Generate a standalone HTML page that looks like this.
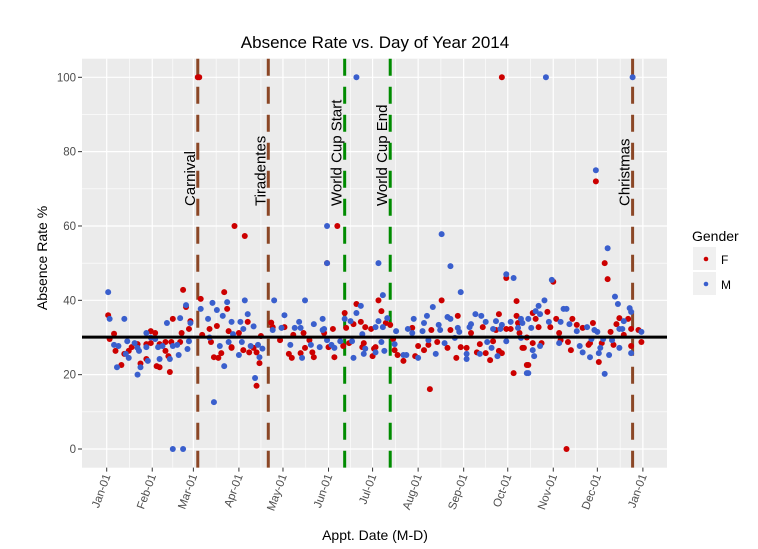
<!DOCTYPE html>
<html><head><meta charset="utf-8"><style>
html,body{margin:0;padding:0;background:#fff;}
svg{display:block;font-family:"Liberation Sans",Arial,sans-serif;}
</style></head><body>
<svg id="chart" width="758" height="549">
<defs><clipPath id="panelClip"><rect x="82" y="58.7" width="585" height="409"/></clipPath></defs>
<rect x="0" y="0" width="758" height="549" fill="#fff"/>
<rect x="82" y="58.7" width="585" height="409" fill="#EBEBEB"/>
<g id="grid"></g>
<g id="events"></g>
<g id="pts" clip-path="url(#panelClip)"></g>
<g id="axes"></g>
<text x="375" y="48" font-size="17" text-anchor="middle" fill="#000">Absence Rate vs. Day of Year 2014</text>
<text x="0" y="0" transform="translate(47,258) rotate(-90)" font-size="14" text-anchor="middle" fill="#000">Absence Rate %</text>
<text x="375" y="540" font-size="14" text-anchor="middle" fill="#000">Appt. Date (M-D)</text>
<g>
<text x="692" y="241" font-size="14" fill="#000">Gender</text>
<rect x="693" y="247" width="23" height="23" fill="#F0F0F0"/>
<circle cx="706" cy="259" r="2.3" fill="#CC0000"/>
<text x="721" y="264" font-size="12" fill="#000">F</text>
<rect x="693" y="272" width="23" height="23" fill="#F0F0F0"/>
<circle cx="706" cy="284" r="2.3" fill="#3A5FCD"/>
<text x="721" y="289" font-size="12" fill="#000">M</text>
</g>
</svg>
<script>
// ---- data ----
const monthLabels=["Jan-01","Feb-01","Mar-01","Apr-01","May-01","Jun-01","Jul-01","Aug-01","Sep-01","Oct-01","Nov-01","Dec-01","Jan-01"];
const monthDays=[0,31,59,90,120,151,181,212,243,273,304,334,365];
const yTicks=[0,20,40,60,80,100];
const eventNames=["Carnival","Tiradentes","World Cup Start","World Cup End","Christmas"];
const eventDays=[62,110,162,193,358];
const eventTypes=["holiday","holiday","cup","cup","holiday"];
const meanRate=30.1;
const fDays=[
1,5,2,6,10,12,15,17,21,23,
27,27,30,30,33,34,36,36,40,40,
43,42,44,45,50,51,52,54,56,57,
64,65,70,75,71,73,76,78,80,82,
83,85,62,63,87,94,157,150,313,269,
333,90,85,93,97,100,102,104,102,105,
112,113,121,118,124,126,127,134,132,135,
138,140,141,148,154,151,155,161,162,163,
165,168,170,173,176,175,174,181,180,183,
182,185,96,228,272,279,277,220,187,190,
193,195,196,198,202,210,208,212,216,219,
221,225,232,234,239,238,241,245,248,252,
256,254,258,261,263,267,265,267,269,272,
275,280,279,281,283,286,339,341,304,349,
355,347,352,357,362,364,357,345,335,337,
343,331,329,328,324,320,317,316,314,309,
308,306,300,302,292,290,294,296,284,290,
286,287];
const fVals=[
36,31,29.6,26.4,22.6,25.6,26.4,27.4,28.2,23,
28.2,24.2,31.7,28.5,31.2,22.3,22,28.2,28.8,26.4,
20.7,25,28.8,35,28.8,31.2,42.8,38.2,32.3,34.4,
40.4,30.7,32.3,33.1,28.8,24.7,24.5,25.8,42.2,37.7,
31.7,27.2,100,100,60,57.3,60,50,0,100,
72,31.2,27.4,26.6,26,27.2,26,23.1,17,30.4,
34,32.8,32.8,29.3,25.6,24.5,30.7,31.2,25.8,27.2,
29.3,26,24.7,31.2,32.3,27.4,24.7,27.7,36.6,32.6,
28.5,33.6,39,34.2,32.8,28.5,27.4,25,32.3,27.4,
27,40,34.2,40,46,39.8,20.4,16.1,37.1,33.9,
33.4,29.6,26.6,25.3,23.7,25,32.6,27.7,26.6,28,
32,28.8,27.2,32,35.8,24.5,27.4,27.2,31.2,26,
32.8,28.2,25.8,23.9,29,36.3,32,26.4,25.8,32.3,
32.3,33.9,35.8,31.2,27.2,22.6,50,45.7,45,35.2,
35,33.6,30.7,32.3,32,28.8,27.7,28,23.4,28.5,
31.5,33.9,28.5,28,32.6,33.4,35,26.6,28.8,29.3,
31.2,35,36.9,32.8,35,36.6,32.8,28.5,27.2,28.5,
30,22.6];
const mDays=[1,2,12,5,8,7,13,15,14,19,21,22,23,21,27,27,28,30,33,36,35,38,41,43,45,48,49,50,54,55,56,57,64,69,72,75,70,77,79,82,83,80,45,52,73,170,150,150,185,94,114,135,96,85,91,100,93,86,92,90,98,103,104,106,101,113,121,119,125,128,131,132,133,139,141,145,147,147,148,150,153,155,159,162,166,167,170,173,174,176,168,175,183,185,183,228,234,241,272,277,188,191,188,197,187,196,189,202,204,212,209,205,208,215,216,218,219,222,224,227,226,230,232,234,237,239,240,245,245,247,248,251,255,254,258,259,262,263,265,266,269,268,272,275,282,280,282,286,341,303,346,348,356,357,352,349,351,364,357,349,342,339,335,336,338,344,334,332,330,329,327,324,322,320,315,308,311,313,309,301,298,294,292,295,287,295,289,290,291,287,283,299,358,333];
const mVals=[42.2,35,35,28,27.7,22,25.6,24.5,29,28.5,27.2,26.4,22,20,31.2,27.4,23.7,30,29.6,24.2,27.4,27.7,33.9,24.2,27.7,28,25.3,35.2,38.7,26.9,29,33.9,37.7,35,39.3,37.4,30,27.7,35.8,39.5,28.8,22.3,0,0,12.6,100,60,50,50,40,40,40,36.3,34.2,34.2,33,32.3,30.9,28.8,25.3,27.7,28,24.7,27,19.1,32,36,32.6,28,32.6,34.2,32.6,24.5,28,33.6,27.4,35,32,32.3,29.3,28,27.2,29,35,34.4,29,36.6,38.5,30.9,27,24.5,25.6,32.8,34.4,26,57.8,49.2,42.2,47,46,41.4,35.2,32.8,31.7,28.8,28.2,26.4,25.3,25.3,24.5,35,32.3,31.2,31.7,33.9,35.8,29.3,38.2,25.6,32,33.4,28.5,35.5,35,29.9,32.6,31.5,25.6,24.2,32.8,33.6,36.3,35.8,25.6,34.2,28.8,27.2,32.3,34.4,25,33.4,32.3,29,34.2,35,32.6,29.9,20.4,54,45.5,41,39,37.9,36.9,34.4,32.3,32.3,31.5,25.8,27.2,25.3,20.2,25.8,27.2,29.6,29.3,31.5,32,29.6,24.7,32.8,26,27.7,31.7,33.6,28.5,37.7,37.7,34.2,34.2,40,38.5,37.1,36.3,35,27.7,32.6,26.6,25,20.4,33.9,100,100,75];
// ---- scales ----
const X0=106.7, PXD=1.469, Y0=449, PXV=3.717;
const xs=d=>X0+PXD*d;
const ys=v=>Y0-PXV*v;
const NS="http://www.w3.org/2000/svg";
function mk(tag,attrs,parent){const e=document.createElementNS(NS,tag);for(const k in attrs)e.setAttribute(k,attrs[k]);parent.appendChild(e);return e;}
const grid=document.getElementById('grid'),ev=document.getElementById('events'),pts=document.getElementById('pts'),axes=document.getElementById('axes');
const L=82,R=667,T=58.7,B=467.6;
for(let i=0;i<yTicks.length-1;i++){const v=(yTicks[i]+yTicks[i+1])/2;
 const l=mk('line',{x1:L,x2:R,y1:ys(v),y2:ys(v),stroke:'#fff','stroke-width':0.6},grid);
 
 }
for(let i=0;i<monthDays.length-1;i++){const d=(monthDays[i]+monthDays[i+1])/2;
 const l=mk('line',{x1:xs(d),x2:xs(d),y1:T,y2:B,stroke:'#fff','stroke-width':0.6},grid);
 
 }
yTicks.forEach(v=>{
 const l=mk('line',{x1:L,x2:R,y1:ys(v),y2:ys(v),stroke:'#fff','stroke-width':1.2},grid);
 
 
 const t=mk('line',{x1:L-4,x2:L,y1:ys(v),y2:ys(v),stroke:'#333','stroke-width':1},axes);
 
 
 const tx=mk('text',{x:L-6,y:ys(v)+4,'font-size':11.5,'text-anchor':'end',fill:'#4d4d4d'},axes);
 tx.textContent=v;
 
 
});
monthDays.forEach((d,i)=>{
 const l=mk('line',{x1:xs(d),x2:xs(d),y1:T,y2:B,stroke:'#fff','stroke-width':1.2},grid);
 
 
 const t=mk('line',{x1:xs(d),x2:xs(d),y1:B,y2:B+4,stroke:'#333','stroke-width':1},axes);
 
 
 const tx=mk('text',{x:0,y:0,'font-size':11.5,'text-anchor':'end',fill:'#4d4d4d',transform:`translate(${xs(d)+4},${B+8}) rotate(-70)`},axes);
 tx.textContent=monthLabels[i];
 
 
});
function drawPts(days,vals,color,name){
 const n=Math.min(days.length,vals.length);
 for(let i=0;i<n;i++){
  const c=mk('circle',{cx:xs(days[i]),cy:ys(vals[i]),r:3,fill:color},pts);
  
  
 }}
drawPts(fDays,fVals,'#CC0000','point-f');
drawPts(mDays,mVals,'#3A5FCD','point-m');
const ml=mk('line',{x1:L,x2:R,y1:ys(meanRate),y2:ys(meanRate),stroke:'#000','stroke-width':3},pts);


eventDays.forEach((d,i)=>{
 const col=eventTypes[i]==='cup'?'#008B00':'#8B4726';
 const l=mk('line',{x1:xs(d),x2:xs(d),y1:T,y2:B,stroke:col,'stroke-width':3,'stroke-dasharray':'17,11'},ev);
 
 
 const t=mk('text',{x:0,y:0,'font-size':15,fill:'#000',transform:`translate(${xs(d)-3},206) rotate(-90)`},ev);
 t.textContent=eventNames[i];
 
 
});
</script>
</body></html>
